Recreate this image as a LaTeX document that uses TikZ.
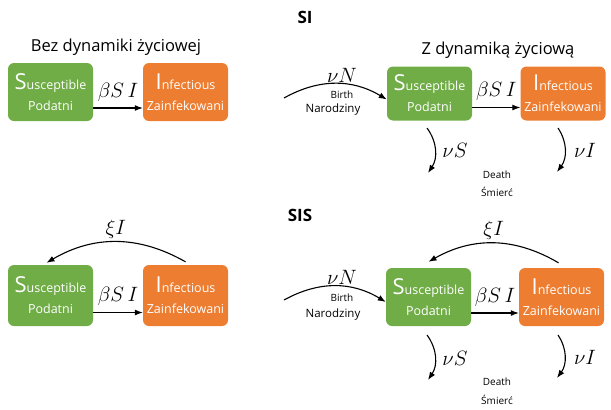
\documentclass[tikz,border=0pt]{standalone}
\usepackage{fontspec}
\setmainfont{Open Sans}
\usetikzlibrary{arrows.meta}

\definecolor{verde}{HTML}{70AD47}
\definecolor{arancio}{HTML}{ED7D31}

\newcommand{\lettera}[1]{{\fontsize{22}{22}\selectfont #1}}

\tikzset{
    box/.style={rounded corners=6pt, minimum width=85pt, minimum height=58pt, inner sep=0pt,
        text=white, align=center, font=\fontsize{12.5}{21}\selectfont},
    sbox/.style={box, fill=verde},
    ibox/.style={box, fill=arancio},
    freccia/.style={>={Latex[length=8pt,width=6pt]}, ->, line width=1.1pt},
    titolo/.style={font=\fontsize{17}{17}\selectfont\bfseries, inner sep=0pt},
    sottotitolo/.style={font=\fontsize{16.5}{17}\selectfont, inner sep=0pt},
    tasso/.style={font=\fontsize{21}{21}\selectfont, inner sep=0pt},
    piccolo/.style={font=\fontsize{10}{10}\selectfont, inner sep=0pt},
    medio/.style={font=\fontsize{11.5}{12}\selectfont, inner sep=0pt},
}

\begin{document}
\begin{tikzpicture}[x=1pt,y=-1pt]
    \useasboundingbox (0,0) rectangle (611,410);

    %titoli
    \node[titolo] (tSI) at (305,17) {SI};
    \node[titolo] (tSIS) at (300,215) {SIS};
    \node[sottotitolo] (tsenza) at (116,47) {Bez dynamiki życiowej};
    \node[sottotitolo] (tcon) at (498,50) {Z dynamiką życiową};

    %SI senza dinamica
    \node[sbox] (S1) at (50.5,92) {\lettera{S}usceptible\\Podatni};
    \node[ibox] (I1) at (185.5,92) {\lettera{I}nfectious\\Zainfekowani};
    \draw[freccia] ([yshift=-16pt]S1.east) -- node[tasso,above=6pt]{$\beta S\,I$} ([yshift=-16pt]I1.west);

    %SI con dinamica
    \node[sbox, minimum height=54pt] (S2) at (429.5,93.5) {\lettera{S}usceptible\\Podatni};
    \node[ibox, minimum height=54pt] (I2) at (563,93.5) {\lettera{I}nfectious\\Zainfekowani};
    \draw[freccia] ([yshift=-14pt]S2.east) -- node[tasso,above=6pt]{$\beta S\,I$} ([yshift=-14pt]I2.west);
    % nascite
    \coordinate (nasc2) at (284,98);
    \draw[freccia] (nasc2) to[bend left=30] ([yshift=-6pt]S2.west);
    \node[tasso] (nuN2) at (342,75) {$\nu N$};
    \node[piccolo] (birth2) at (342,95) {Birth};
    \node[medio] (narod2) at (333,110) {Narodziny};
    % morti
    \coordinate (mS2a) at (427,128); \coordinate (mS2b) at (428,173);
    \coordinate (mI2a) at (558,128); \coordinate (mI2b) at (557,172);
    \draw[freccia] (mS2a) to[bend left=35] (mS2b);
    \draw[freccia] (mI2a) to[bend left=35] (mI2b);
    \node[tasso] (nuS2) at (455,150) {$\nu S$};
    \node[tasso] (nuI2) at (585,150) {$\nu I$};
    \node[piccolo] (death2) at (497,175) {Death};
    \node[piccolo] (smierc2) at (497,192) {Śmierć};

    %SIS senza dinamica
    \node[sbox, minimum height=61pt] (S3) at (50.5,295.5) {\lettera{S}usceptible\\Podatni};
    \node[ibox, minimum height=61pt] (I3) at (185.5,295.5) {\lettera{I}nfectious\\Zainfekowani};
    \draw[freccia] ([yshift=-17pt]S3.east) -- node[tasso,above=6pt]{$\beta S\,I$} ([yshift=-17pt]I3.west);
    \draw[freccia] ([yshift=3pt]I3.north) to[bend right=30] node[tasso,above=3pt]{$\xi I$} ([xshift=-4pt,yshift=2pt]S3.north);

    %SIS con dinamica
    \node[sbox, minimum height=58pt] (S4) at (428.5,297) {\lettera{S}usceptible\\Podatni};
    \node[ibox, minimum height=58pt] (I4) at (561.5,297) {\lettera{I}nfectious\\Zainfekowani};
    \draw[freccia] ([yshift=-16pt]S4.east) -- node[tasso,above=6pt]{$\beta S\,I$} ([yshift=-16pt]I4.west);
    \draw[freccia] ([xshift=-3pt,yshift=5pt]I4.north) to[bend right=30] node[tasso,above=3pt]{$\xi I$} ([yshift=6pt]S4.north);
    % nascite
    \coordinate (nasc4) at (284,300);
    \draw[freccia] (nasc4) to[bend left=30] ([yshift=-5pt]S4.west);
    \node[tasso] (nuN4) at (342,277) {$\nu N$};
    \node[piccolo] (birth4) at (342,298) {Birth};
    \node[medio] (narod4) at (333,315) {Narodziny};
    % morti
    \coordinate (mS4a) at (427,335); \coordinate (mS4b) at (428,380);
    \coordinate (mI4a) at (558,335); \coordinate (mI4b) at (557,378);
    \draw[freccia] (mS4a) to[bend left=35] (mS4b);
    \draw[freccia] (mI4a) to[bend left=35] (mI4b);
    \node[tasso] (nuS4) at (455,358) {$\nu S$};
    \node[tasso] (nuI4) at (585,357) {$\nu I$};
    \node[piccolo] (death4) at (497,382) {Death};
    \node[piccolo] (smierc4) at (497,400) {Śmierć};
\end{tikzpicture}
\end{document}
